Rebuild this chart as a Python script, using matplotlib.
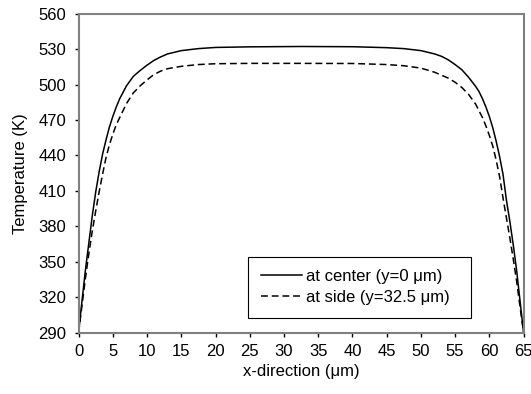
import matplotlib
matplotlib.use('Agg')
import matplotlib.pyplot as plt

# temperature profiles
x_center = [0, 0.5, 1.0, 1.5, 2.0, 2.5, 3.0, 3.5, 4.0, 4.5, 5.0, 5.5, 6.0, 7.0, 8.0,
            9.0, 10, 11, 12, 13, 15, 17.5, 20, 25, 32.5, 40, 45, 47.5, 50, 52, 53, 54,
            55, 56, 57, 58, 58.5, 59, 59.5, 60, 60.5, 61, 61.5, 62, 62.5, 63, 63.5,
            64, 64.5, 65]
t_center = [290, 317, 343, 366, 389, 409, 426, 441, 453, 464, 473, 481, 488, 499, 507,
            512, 516.5, 520.5, 523.5, 526, 528.8, 530.5, 531.5, 532, 532.3, 532.1,
            531.3, 530.5, 528.8, 526, 524, 521, 517, 512.5, 506, 498.5, 494, 488,
            481, 473, 463.5, 452, 439, 424, 402, 384, 364, 342, 316, 290]

x_side = [0, 0.5, 1.0, 1.5, 2.0, 2.5, 3.0, 3.5, 4.0, 4.5, 5.0, 5.5, 6.0, 7.0, 8.0,
          9.0, 10, 11, 12, 13, 15, 17.5, 20, 25, 32.5, 40, 45, 47.5, 50, 52, 53, 54,
          55, 56, 57, 58, 59, 59.5, 60, 60.5, 61, 61.5, 62, 62.5, 63, 63.5, 64, 64.5,
          65]
t_side = [290, 313, 336, 357, 376, 393, 409, 424, 438, 449, 458, 466, 472, 484, 493,
          499, 504, 508.5, 511.5, 513.5, 515.5, 517, 517.7, 518, 518, 517.9, 517,
          516, 514, 510.5, 508, 505.5, 502, 497.5, 491.5, 483.5, 472, 465, 457, 448,
          436, 422, 404, 387, 370, 352, 333, 311, 290]

x_ticks = list(range(0, 66, 5))
y_ticks = list(range(290, 561, 30))

plt.rcParams['font.family'] = ['Liberation Sans', 'DejaVu Sans']
fs = 12

fig = plt.figure(figsize=(5.31, 3.94), dpi=100)
ax = fig.add_axes([0.148, 0.156, 0.838, 0.809])

ax.plot(x_center, t_center, color='black', lw=1.1, label='at center (y=0 μm)')
ax.plot(x_side, t_side, color='black', lw=1.1, dashes=(4.5, 2.5),
        label='at side (y=32.5 μm)')

ax.set_xlim(0, 65)
ax.set_ylim(290, 560)
ax.set_xticks(x_ticks)
ax.set_yticks(y_ticks)
ax.tick_params(direction='out', length=3, width=1, colors='black', labelsize=fs)
ax.tick_params(axis='x', pad=5)
ax.tick_params(axis='y', pad=6)

for s in ax.spines.values():
    s.set_color('#808080')
    s.set_linewidth(1.5)

ax.set_xlabel('x-direction (μm)', fontsize=fs, labelpad=4)
ax.set_ylabel('Temperature (K)', fontsize=fs, labelpad=7)

# legend box sized like the reference one
leg = ax.legend(loc='lower left', bbox_to_anchor=(0.381, 0.047, 0.501, 0.197),
                mode='expand', borderaxespad=0, fancybox=False, edgecolor='black',
                framealpha=1, fontsize=fs, handlelength=2.5, handletextpad=0.2,
                borderpad=0.75, labelspacing=0.35)
leg.get_frame().set_linewidth(0.8)

fig.savefig('out.png', dpi=100)
